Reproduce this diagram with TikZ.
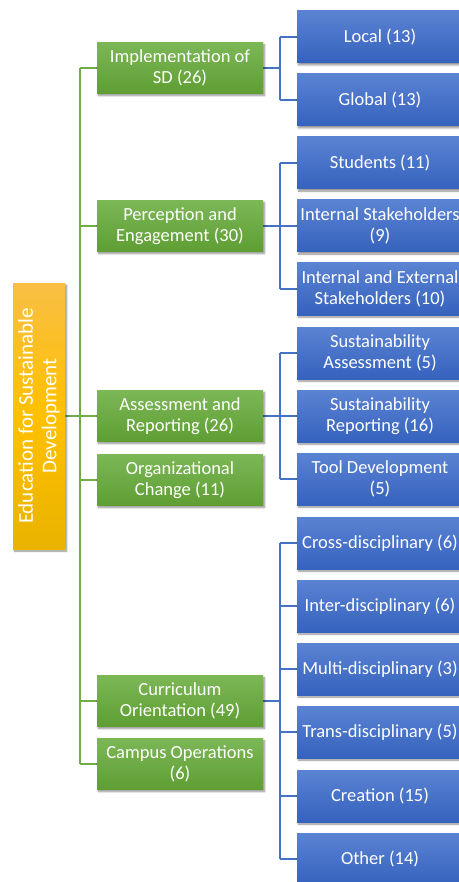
\documentclass[tikz,border=0pt]{standalone}
\usepackage{fontspec}
\setmainfont{Carlito}
\usetikzlibrary{shadows.blur,backgrounds}

\definecolor{grntop}{HTML}{7CB756}
\definecolor{grnbot}{HTML}{5E9E33}
\definecolor{blutop}{HTML}{5B83D3}
\definecolor{blubot}{HTML}{3562BD}
\definecolor{orgtop}{HTML}{F8BF45}
\definecolor{orgmid}{HTML}{FFC000}
\definecolor{orgbot}{HTML}{E9B300}
\definecolor{grnline}{HTML}{70AD47}
\definecolor{bluline}{HTML}{4472C4}

\tikzset{
  box/.style={rectangle, inner sep=0pt, text=white, align=center,
    font=\fontsize{18.5}{21}\selectfont,
    blur shadow={shadow xshift=1.5pt, shadow yshift=-2pt, shadow blur steps=6, shadow opacity=45}},
  topic/.style={box, minimum width=166pt, minimum height=51pt,
    top color=grntop, bottom color=grnbot},
  sub/.style={box, minimum width=166pt, minimum height=52pt,
    top color=blutop, bottom color=blubot},
  rootbox/.style={box, rotate=90, minimum width=266pt, minimum height=52pt,
    font=\fontsize{21}{23.5}\selectfont,
    top color=orgtop, bottom color=orgbot, middle color=orgmid},
  gline/.style={draw=grnline, line width=2pt},
  bline/.style={draw=bluline, line width=2pt},
}

\begin{document}
\begin{tikzpicture}[x=1pt, y=-1pt]
\useasboundingbox (0,0) rectangle (458,882);

% root
\node[rootbox] (root) at (39,416) {Education for Sustainable\\Development};

% first level
\node[topic] (impl)   at (180,68)  {Implementation of\\SD (26)};
\node[topic] (percep) at (180,226) {Perception and\\Engagement (30)};
\node[topic] (assess) at (180,416) {Assessment and\\Reporting (26)};
\node[topic] (org)    at (180,480) {Organizational\\Change (11)};
\node[topic] (curr)   at (180,701) {Curriculum\\Orientation (49)};
\node[topic] (campus) at (180,764) {Campus Operations\\(6)};

% second level
\node[sub] (local)  at (380,37)  {Local (13)};
\node[sub] (global) at (380,100) {Global (13)};
\node[sub] (stud)   at (380,163) {Students (11)};
\node[sub] (intst)  at (380,226) {Internal Stakeholders\\(9)};
\node[sub] (intext) at (380,289) {Internal and External\\Stakeholders (10)};
\node[sub] (sasses) at (380,353) {Sustainability\\Assessment (5)};
\node[sub] (srep)   at (380,416) {Sustainability\\Reporting (16)};
\node[sub] (tool)   at (380,479) {Tool Development\\(5)};
\node[sub] (cross)  at (380,543) {Cross-disciplinary (6)};
\node[sub] (inter)  at (380,606) {Inter-disciplinary (6)};
\node[sub] (multi)  at (380,669) {Multi-disciplinary (3)};
\node[sub] (trans)  at (380,732) {Trans-disciplinary (5)};
\node[sub] (creat)  at (380,796) {Creation (15)};
\node[sub] (other)  at (380,859) {Other (14)};

\coordinate (tx) at (80,0);
\coordinate (bx) at (280,0);

\begin{pgfonlayer}{background}
  % green trunk and branches
  \draw[gline] (root.south) -- (root.south -| tx);
  \draw[gline] (impl.west -| tx) -- (campus.west -| tx);
  \foreach \n in {impl,percep,assess,org,curr,campus}
    \draw[gline] (\n.west) -- (\n.west -| tx);

  % blue brackets
  \foreach \p/\first/\last/\kids in {
      impl/local/global/{local,global},
      percep/stud/intext/{stud,intst,intext},
      assess/sasses/tool/{sasses,srep,tool},
      curr/cross/other/{cross,inter,multi,trans,creat,other}} {
    \draw[bline] (\p.east) -- (\p.east -| bx);
    \draw[bline] (\first.west -| bx) -- (\last.west -| bx);
    \foreach \k in \kids
      \draw[bline] (\k.west) -- (\k.west -| bx);
  }
\end{pgfonlayer}
\end{tikzpicture}
\end{document}
